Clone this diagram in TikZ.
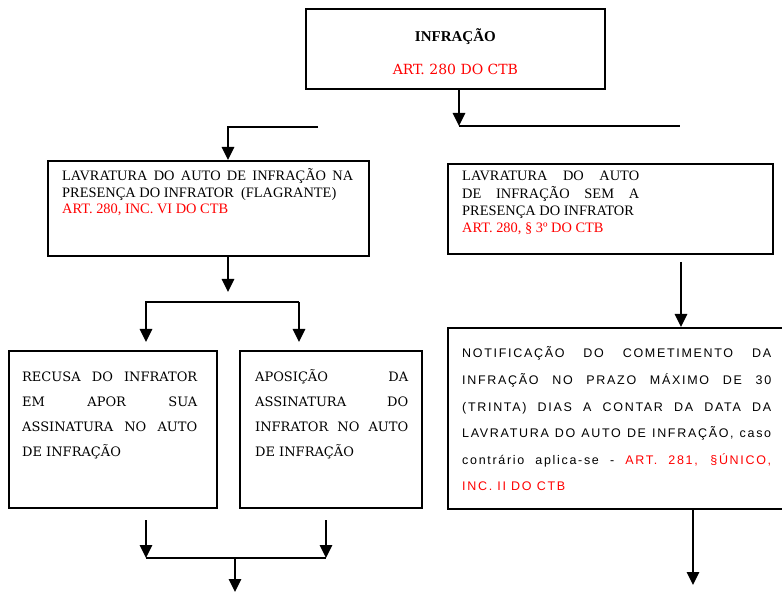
\documentclass[tikz,border=0pt]{standalone}
\usepackage{fontspec}
\setmainfont{Liberation Serif}
\newfontfamily\wideserif{DejaVu Serif}
\newfontfamily\spacedsans[LetterSpace=13.5]{Liberation Sans}
\usetikzlibrary{arrows.meta}
\usetikzlibrary{positioning}
\newcommand\nobreaks{\hyphenpenalty=10000\exhyphenpenalty=10000\relax}
\tikzset{
    flow box/.style={
        draw,
        rectangle,
        line width=1.8pt,
        inner sep=0,
        anchor=north west,
    },
    flow line/.style={
        line width=1.7pt,
    },
    flow arrow/.style={
        flow line,
        -{Triangle[width=12.5pt,length=13pt]},
    },
    box text/.style={
        anchor=base west,
        inner sep=0,
        text width=#1,
        align=justify,
    },
    serif text/.style={
        font=\fontsize{14.4}{#1}\selectfont\nobreaks,
    },
    wide text/.style={
        font=\wideserif\fontsize{13}{25}\selectfont\nobreaks,
    },
    sans text/.style={
        font=\spacedsans\fontsize{12.5}{26.6}\selectfont\nobreaks,
    },
}

\begin{document}
\begin{tikzpicture}[x=1pt,y=-1pt]
    \useasboundingbox (0,0) rectangle (782,593);

    % boxes
    \node[flow box, minimum width=299pt, minimum height=80pt] (infr) at (305,8) {};
    \node[flow box, minimum width=321pt, minimum height=95pt] (flag) at (47,160) {};
    \node[flow box, minimum width=325pt, minimum height=90pt] (semp) at (447,163) {};
    \node[flow box, minimum width=208pt, minimum height=157pt] (recu) at (8,350) {};
    \node[flow box, minimum width=182pt, minimum height=157pt] (apos) at (239,350) {};
    \node[flow box, minimum width=345pt, minimum height=181pt] (noti) at (447,327) {};

    % texts
    \node[anchor=base, inner sep=0, font=\bfseries\fontsize{15}{18}\selectfont] (infrttl)
        at ([shift={(0,33.7)}]infr.north) {INFRAÇÃO};
    \node[anchor=base, inner sep=0, text=red, font=\wideserif\fontsize{14}{17}\selectfont] (infrart)
        at ([shift={(0,67)}]infr.north) {ART. 280 DO CTB};

    \node[box text=291pt, serif text=16.5] (flagtxt) at ([shift={(15,21)}]flag.north west)
        {LAVRATURA DO AUTO DE INFRAÇÃO NA\linebreak
         PRESENÇA DO INFRATOR\ \ (FLAGRANTE)\\
         \textcolor{red}{ART. 280, INC. VI DO CTB}};
    \node[box text=177pt, serif text=17.3] (semptxt) at ([shift={(15,18)}]semp.north west)
        {LAVRATURA DO AUTO\linebreak
         DE INFRAÇÃO SEM A\linebreak
         PRESENÇA DO INFRATOR\\
         \textcolor{red}{ART. 280, § 3º DO CTB}};

    \node[box text=175pt, wide text] (recutxt) at ([shift={(14,32)}]recu.north west)
        {RECUSA DO INFRATOR\linebreak
         EM APOR SUA\linebreak
         ASSINATURA NO AUTO\linebreak
         DE INFRAÇÃO};
    \node[box text=153pt, wide text] (apostxt) at ([shift={(16,32)}]apos.north west)
        {APOSIÇÃO DA\linebreak
         ASSINATURA DO\linebreak
         INFRATOR NO AUTO\linebreak
         DE INFRAÇÃO};

    \node[box text=309pt, sans text] (notitxt) at ([shift={(15,31)}]noti.north west)
        {NOTIFICAÇÃO DO COMETIMENTO DA\linebreak
         INFRAÇÃO NO PRAZO MÁXIMO DE 30\linebreak
         (TRINTA) DIAS A CONTAR DA DATA DA\linebreak
         LAVRATURA DO AUTO DE INFRAÇÃO, caso\linebreak
         contrário aplica-se - \textcolor{red}{ART. 281, §ÚNICO,\linebreak
         INC. II DO CTB}};

    % connectors
    \coordinate (jr) at (459,126);
    \coordinate (jrend) at (680,126);
    \coordinate (jl) at (318,127);
    \coordinate (jlarr) at (228,127);
    \draw[flow arrow] (infr.south -| jr) -- (jr);
    \draw[flow line] (jr) -- (jrend);
    \draw[flow arrow] (jl) -- (jlarr) -- (jlarr |- flag.north);

    \coordinate (flagarr) at (228,292);
    \coordinate (splitl) at (146,302);
    \coordinate (splitr) at (299,302);
    \coordinate (recarr) at (146,342);
    \coordinate (aparr) at (299,342);
    \draw[flow arrow] (flag.south -| flagarr) -- (flagarr);
    \draw[flow arrow] (splitr) -- (splitl) -- (recarr);
    \draw[flow arrow] (splitr) -- (aparr);

    \coordinate (semparr) at (681,262);
    \draw[flow arrow] (semparr) -- (semparr |- noti.north);

    \coordinate (recout) at (146,520);
    \coordinate (apout) at (326,520);
    \coordinate (joinl) at (146,558);
    \coordinate (joinr) at (326,558);
    \coordinate (joinm) at (235,558);
    \coordinate (joinarr) at (235,592);
    \draw[flow arrow] (recout) -- (joinl);
    \draw[flow arrow] (apout) -- (joinr);
    \draw[flow line] (joinl) -- (joinr);
    \draw[flow arrow] (joinm) -- (joinarr);

    \coordinate (notiarr) at (693,585);
    \draw[flow arrow] (noti.south -| notiarr) -- (notiarr);

\end{tikzpicture}
\end{document}
